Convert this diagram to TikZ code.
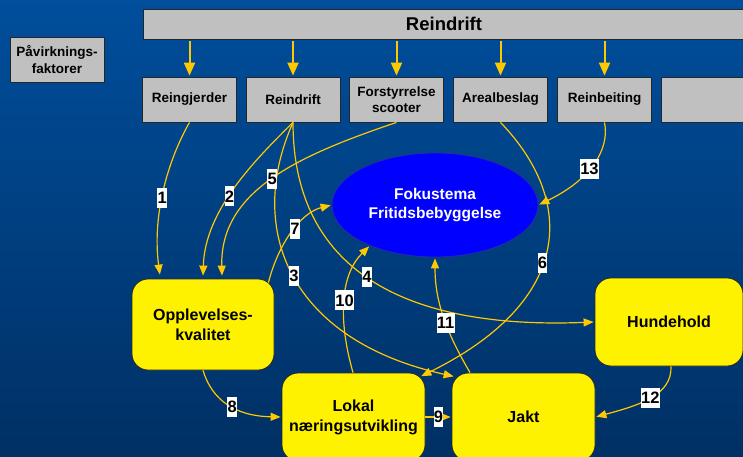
\documentclass[tikz,border=0pt]{standalone}
\usepackage{fontspec}
\setmainfont{Liberation Sans}
\usetikzlibrary{shapes.geometric,arrows.meta}
\definecolor{bg-top}{RGB}{0,78,156}
\definecolor{bg-mid}{RGB}{0,102,204}
\definecolor{bg-bottom}{RGB}{0,48,100}
\definecolor{box-grey}{RGB}{192,192,192}
\definecolor{link-yellow}{RGB}{255,200,0}
\definecolor{focus-blue}{RGB}{0,0,255}
\definecolor{focus-edge}{RGB}{40,40,170}
\tikzset{
    grey-box/.style = {draw=black!85, fill=box-grey, line width=0.8pt, rectangle, minimum width=94pt, minimum height=45pt, inner sep=1pt, align=center, font=\bfseries\fontsize{13.5}{16.5}\selectfont},
    yellow-box/.style = {draw=black!85, fill=yellow, line width=0.8pt, rectangle, rounded corners=16pt, minimum width=143pt, minimum height=90pt, align=center, font=\bfseries\fontsize{16}{20}\selectfont},
    focus-ellipse/.style = {ellipse, draw=focus-edge, fill=focus-blue, line width=0.8pt, text=white, minimum width=206pt, minimum height=104pt, align=center, font=\bfseries\fontsize{15.5}{19}\selectfont},
    feed-arrow/.style = {draw=link-yellow, line width=2pt, -{Triangle[length=13pt,width=11pt]}, shorten <=2pt, shorten >=1pt},
    link/.style = {draw=link-yellow, line width=1.2pt, -{Triangle[length=10pt,width=8pt]}, shorten >=1pt},
    num-label/.style = {fill=white, text=black, inner xsep=0.3pt, inner ysep=0pt, minimum height=20pt, font=\bfseries\fontsize{16.5}{16.5}\selectfont},
}
\begin{document}
\begin{tikzpicture}[x=1pt, y=-1pt]
\useasboundingbox (0,0) rectangle (743,457);
\fill[top color=bg-top, middle color=bg-mid, bottom color=bg-bottom] (0,0) rectangle (743,457);
\clip (0,0) rectangle (743,457);

\node[grey-box, minimum width=602pt, minimum height=30pt, font=\bfseries\fontsize{18.5}{20}\selectfont] (top) at (444,24) {Reindrift};
\node[grey-box] (faktorer) at (57,59.5) {Påvirknings-\\faktorer};
\node[grey-box] (reingjerder) at (189.5,99.5) {Reingjerder};
\node[grey-box] (reindrift) at (293,99.5) {Reindrift};
\node[grey-box] (scooter) at (396.5,99.5) {Forstyrrelse\\scooter};
\node[grey-box] (areal) at (500.5,99.5) {Arealbeslag};
\node[grey-box] (beiting) at (604.5,99.5) {Reinbeiting};
\node[grey-box] (blank) at (708,99.5) {};

\node[focus-ellipse] (fokus) at (435,205) {Fokustema\\Fritidsbebyggelse};
\node[yellow-box, minimum width=142pt, minimum height=91pt] (opplevelse) at (203,324.5) {Opplevelses-\\kvalitet};
\node[yellow-box, minimum height=88pt] (lokal) at (353.5,417) {Lokal\\næringsutvikling};
\node[yellow-box, minimum height=88pt] (jakt) at (523.5,417) {Jakt};
\node[yellow-box, minimum width=148pt, minimum height=88pt] (hundehold) at (669,322) {Hundehold};

\draw[feed-arrow] (top.south -| reingjerder.north) -- (reingjerder.north);
\draw[feed-arrow] (top.south -| reindrift.north) -- (reindrift.north);
\draw[feed-arrow] (top.south -| scooter.north) -- (scooter.north);
\draw[feed-arrow] (top.south -| areal.north) -- (areal.north);
\draw[feed-arrow] (top.south -| beiting.north) -- (beiting.north);

\draw[link] (reingjerder.south) .. controls (168,160) and (152,215) .. node[num-label, pos=0.55] {1} ([xshift=-43pt,yshift=3pt]opplevelse.north);
\draw[link] (reindrift.south) .. controls (255,160) and (205,210) .. node[num-label, pos=0.55] {2} ([yshift=2pt]opplevelse.north);
\draw[link] (reindrift.south) .. controls (245,230) and (290,340) .. node[num-label, pos=0.5] {3} ([xshift=3pt,yshift=-4pt]jakt.north west);
\draw[link] (reindrift.south) .. controls (293,260) and (390,330) .. node[num-label, pos=0.5] {4} (hundehold.west);
\draw[link] (scooter.south) .. controls (300,155) and (220,190) .. node[num-label, pos=0.5] {5} ([xshift=19pt,yshift=2pt]opplevelse.north);
\draw[link] (areal.south) .. controls (575,200) and (575,300) .. node[num-label, pos=0.55] {6} ([xshift=-5pt,yshift=-4pt]lokal.north east);
\draw[link] ([xshift=-6pt,yshift=-4pt]opplevelse.north east) .. controls (278,245) and (300,213) .. node[num-label, pos=0.55] {7} (fokus.west);
\draw[link] (opplevelse.south) .. controls (212,400) and (235,416) .. node[num-label, pos=0.55] {8} (lokal.west);
\draw[link] (lokal.east) -- node[num-label] {9} (jakt.west);
\draw[link] ([xshift=-0.5pt]lokal.north) .. controls (338,320) and (340,275) .. node[num-label, pos=0.5] {10} (fokus.212);
\draw[link] ([xshift=-53.5pt]jakt.north) .. controls (445,330) and (435,300) .. node[num-label, pos=0.43] {11} (fokus.south);
\draw[link] ([xshift=2pt]hundehold.south) .. controls (672,395) and (640,405) .. node[num-label, pos=0.5] {12} (jakt.east);
\draw[link] (beiting.south) .. controls (610,150) and (590,180) .. node[num-label, pos=0.55] {13} (fokus.east);
\end{tikzpicture}
\end{document}
